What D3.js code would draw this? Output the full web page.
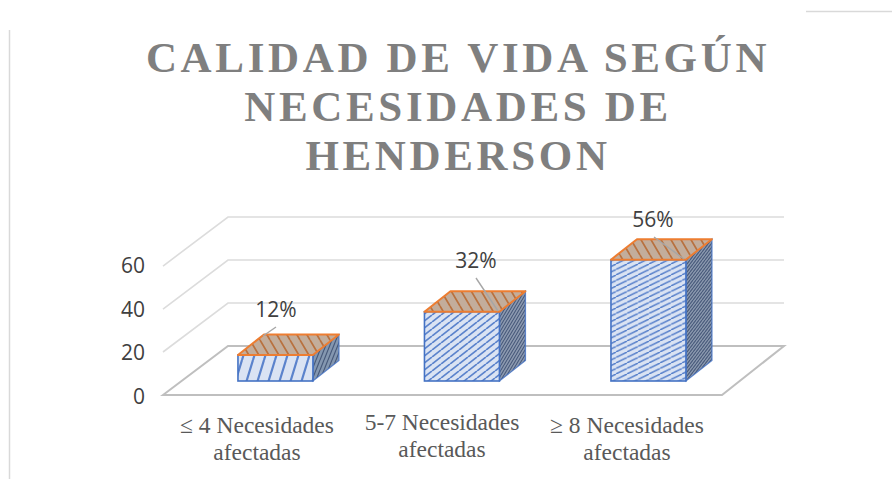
<!DOCTYPE html>
<html><head><meta charset="utf-8">
<script src="https://cdn.jsdelivr.net/npm/d3@7"></script>
<style>html,body{margin:0;padding:0;background:#fff}svg{display:block}</style></head>
<body><svg id="c" width="892" height="479"></svg>
<script>
const categories=[["≤ 4 Necesidades","afectadas"],["5-7 Necesidades","afectadas"],["≥ 8 Necesidades","afectadas"]];
const values=[12,32,56];
const valueLabels=["12%","32%","56%"];
const yTicks=[0,20,40,60];
const titleLines=["CALIDAD DE VIDA SEGÚN","NECESIDADES DE","HENDERSON"];

const svg=d3.select("#c");
const defs=svg.append("defs");
const floorFront=395, floorBack=346, frontLeft=163, frontRight=722, backLeft=228, backRight=784;
const y=d3.scaleLinear().domain([0,60]).range([0,130]);
const x=d3.scaleBand().domain(d3.range(3)).range([182.2,741.7]).paddingInner(0.598).paddingOuter(0.299);
const xLab=d3.scalePoint().domain(d3.range(3)).range([257,627]);
const barBase=381, barW=x.bandwidth(), depthX=26, depthY=20.5;

svg.append("line").attr("x1",9.5).attr("x2",9.5).attr("y1",30).attr("y2",479).attr("stroke","#d9d9d9").attr("stroke-width",1.5);
svg.append("line").attr("x1",806).attr("x2",892).attr("y1",11.5).attr("y2",11.5).attr("stroke","#d9d9d9").attr("stroke-width",1.5);

svg.append("g").selectAll("text").data(titleLines).join("text")
 .attr("x",458).attr("y",(d,i)=>72+i*49).attr("text-anchor","middle")
 .attr("font-family","Liberation Serif").attr("font-weight","bold").attr("font-size",43)
 .attr("letter-spacing",3.65).attr("fill","#7f7f7f").text(d=>d);

const grid=svg.append("g");
yTicks.slice(1).forEach(t=>{
  const by=floorBack-y(t)*0.992;
  grid.append("path").attr("d",d3.line()([[frontLeft,by+floorFront-floorBack],[backLeft,by],[backRight,by]]))
   .attr("fill","none").attr("stroke","#dcdcdc").attr("stroke-width",1.6);
});
svg.append("path").attr("d",d3.line()([[frontLeft,floorFront],[backLeft,floorBack],[backRight,floorBack],[frontRight,floorFront]])+"Z")
 .attr("fill","none").attr("stroke","#bfbfbf").attr("stroke-width",2);

svg.append("g").selectAll("text").data(yTicks).join("text")
 .attr("x",145).attr("y",d=>404-y(d)*1.006).attr("text-anchor","end")
 .attr("font-family","Open Sans").attr("font-size",21).attr("fill","#404040").text(d=>d);

function stripes(id,w,h,bg,fg,sw,flip){
  const p=defs.append("pattern").attr("id",id).attr("patternUnits","userSpaceOnUse").attr("width",w).attr("height",h);
  p.append("rect").attr("width",w).attr("height",h).attr("fill",bg);
  const d=flip?`M${-w},0 L0,${h} M0,0 L${w},${h} M${w},0 L${2*w},${h}`:`M${-w},${h} L0,0 M0,${h} L${w},0 M${w},${h} L${2*w},0`;
  p.append("path").attr("d",d).attr("stroke",fg).attr("stroke-width",sw).attr("fill","none");
  return `url(#${id})`;
}
const frontFill=[stripes("f0",11,36,"#dae3f3","#5b83cc",2.2),stripes("f1",9,7,"#dae3f3","#5b83cc",1.7),stripes("f2",11,5.5,"#dae3f3","#5b83cc",1.5)];
const sideFill=[stripes("s0",4,10,"#8497b0","#47597a",1.2),stripes("s1",3,5,"#8c9ab0","#47597a",1.1),stripes("s2",3,4,"#8c9ab0","#47597a",1.1)];
const topFill=[0,1,2].map(i=>stripes("t"+i,10,17,"#c3ad9b","#b8713f",1.7,true));

const bars=svg.append("g").selectAll("g").data(values).join("g");
bars.each(function(v,i){
  const g=d3.select(this), x0=x(i), h=y(v), t=barBase-h, l=d3.line();
  g.append("path").attr("d",l([[x0+barW,t],[x0+barW+depthX,t-depthY],[x0+barW+depthX,barBase-depthY],[x0+barW,barBase]])+"Z")
   .attr("fill",sideFill[i]).attr("stroke","#4472c4").attr("stroke-opacity",.8).attr("stroke-width",1.3);
  g.append("rect").attr("x",x0).attr("y",t).attr("width",barW).attr("height",h)
   .attr("fill",frontFill[i]).attr("stroke","#4472c4").attr("stroke-width",1.6);
  g.append("path").attr("d",l([[x0,t],[x0+depthX,t-depthY],[x0+barW+depthX,t-depthY],[x0+barW,t]])+"Z")
   .attr("fill",topFill[i]).attr("stroke","#ed7d31").attr("stroke-width",2).attr("stroke-linejoin","round");
});

const leaders=[[[276,327],[263,336]],[[476,278],[498,311]],[[654,237],[684,259]]];
svg.append("g").selectAll("path").data(leaders).join("path")
 .attr("d",d=>d3.line()(d)).attr("stroke","#a6a6a6").attr("stroke-width",1.4).attr("fill","none");

svg.append("g").selectAll("text").data(valueLabels).join("text")
 .attr("x",(d,i)=>[276,476,653][i]).attr("y",(d,i)=>[317,268,227][i]).attr("text-anchor","middle")
 .attr("font-family","Open Sans").attr("font-size",21).attr("fill","#404040").text(d=>d);

const cat=svg.append("g").selectAll("text").data(categories).join("text")
 .attr("text-anchor","middle").attr("font-family","Liberation Serif").attr("font-size",23.5).attr("fill","#595959");
cat.each(function(d,i){
  d3.select(this).selectAll("tspan").data(d).join("tspan").attr("x",xLab(i)).attr("y",(s,j)=>433+j*27-(i==1?3:0)).text(s=>s);
});
</script></body></html>
